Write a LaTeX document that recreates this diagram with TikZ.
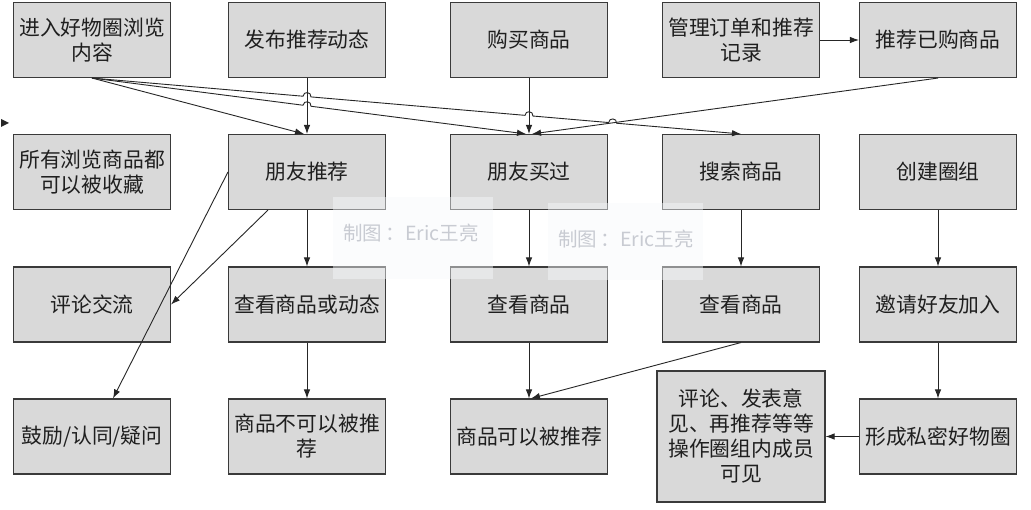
\documentclass[tikz,border=0pt]{standalone}
\usepackage{fontspec}
\newfontfamily\cjk{Noto Sans CJK SC}
\usetikzlibrary{arrows.meta,calc}
\definecolor{boxfill}{HTML}{D9D9D9}
\definecolor{boxline}{HTML}{3A3A3A}
\definecolor{wm}{HTML}{C8CBD2}
\definecolor{wmbg}{HTML}{F7F9FC}
\definecolor{linec}{HTML}{262626}
\begin{document}
\begin{tikzpicture}[x=1pt,y=-1pt,
  box/.style={draw=boxline, line width=1.1pt, fill=boxfill, minimum width=157pt, minimum height=75pt, inner sep=2pt, align=center, font=\cjk\fontsize{20.8}{25}\selectfont, text=black!88},
  arr/.style={draw=linec, line width=0.9pt, -{Latex[length=9pt,width=6.5pt]}},
  hop/.style={bend left=90, looseness=1.7},
  wmtext/.style={text=wm, font=\cjk\fontsize{19.5}{22}\selectfont}]
\useasboundingbox[fill=white] (0,0) rectangle (1031,510);

% row 1
\node[box] (r1a) at (92,40) {进入好物圈浏览\\内容};
\node[box] (r1b) at (307,40) {发布推荐动态};
\node[box] (r1c) at (529,40) {购买商品};
\node[box] (r1d) at (741,40) {管理订单和推荐\\记录};
\node[box] (r1e) at (938,40) {推荐已购商品};
% row 2
\node[box] (r2a) at (92,172) {所有浏览商品都\\可以被收藏};
\node[box] (r2b) at (307,172) {朋友推荐};
\node[box] (r2c) at (529,172) {朋友买过};
\node[box] (r2d) at (741,172) {搜索商品};
\node[box] (r2e) at (938,172) {创建圈组};
% row 3
\node[box] (r3a) at (92,304.5) {评论交流};
\node[box] (r3b) at (307,304.5) {查看商品或动态};
\node[box] (r3c) at (529,304.5) {查看商品};
\node[box] (r3d) at (741,304.5) {查看商品};
\node[box] (r3e) at (938,304.5) {邀请好友加入};
% row 4
\node[box] (r4a) at (92,436.5) {鼓励/认同/疑问};
\node[box] (r4b) at (307,436.5) {商品不可以被推\\荐};
\node[box] (r4c) at (529,436.5) {商品可以被推荐};
\node[box, minimum width=168pt, minimum height=131pt] (r4d) at (741,436.5) {评论、发表意\\见、再推荐等等\\操作圈组内成员\\可见};
\node[box] (r4e) at (938,436.5) {形成私密好物圈};

% watermark overlays
\fill[wmbg, opacity=0.45] (333,197) rectangle (493,279);
\fill[wmbg, opacity=0.45] (548,203) rectangle (703,280);
\node[wmtext] (wm1) at (411,233) {制图\,：Eric王亮};
\node[wmtext] (wm2) at (626,239) {制图\,：Eric王亮};

% stray arrowhead at left
\fill[linec] (1,119) -- (9,123) -- (1,127) -- cycle;

% crossing lines from r1a
\coordinate (tL1) at ($(r2b.north)+(-3,0)$);
\coordinate (tL2) at ($(r2c.north)+(-3,0)$);
\coordinate (tR) at ($(r2c.north)+(3,0)$);
\coordinate (h21) at ($(r1a.south)!0.4954!(tL2)$);
\coordinate (h31) at ($(r1a.south)!0.3313!(r2d.north)$);
\coordinate (h32) at ($(r1a.south)!0.6733!(r2d.north)$);
\coordinate (h33) at ($(r1a.south)!0.8022!(r2d.north)$);

\draw[arr] (r1a.south) -- (tL1);
\draw[arr] (r1a.south) -- ($(h21)!4pt!(r1a.south)$) to[hop] ($(h21)!4pt!(tL2)$) -- (tL2);
\draw[arr] (r1a.south) -- ($(h31)!4pt!(r1a.south)$) to[hop] ($(h31)!4pt!(r2d.north)$)
  -- ($(h32)!4pt!(r1a.south)$) to[hop] ($(h32)!4pt!(r2d.north)$)
  -- ($(h33)!4pt!(r1a.south)$) to[hop] ($(h33)!4pt!(r2d.north)$) -- (r2d.north);
\draw[arr] (r1e.south) -- (tR);

% verticals
\draw[arr] (r1b.south) -- (r2b.north);
\draw[arr] (r1c.south) -- (r2c.north);
\draw[arr] (r1d.east) -- (r1e.west);

\draw[arr] (r2b.west) -- ($(r4a.north)+(21,0)$);
\draw[arr] ($(r2b.south)+(-39,0)$) -- (r3a.east);
\draw[arr] (r2b.south) -- (r3b.north);
\draw[arr] (r3b.south) -- (r4b.north);
\draw[arr] (r2c.south) -- (r3c.north);
\draw[arr] (r3c.south) -- (r4c.north);
\draw[arr] (r2d.south) -- (r3d.north);
\draw[arr] (r3d.south) -- ($(r4c.north)+(2,0)$);
\draw[arr] (r2e.south) -- (r3e.north);
\draw[arr] (r3e.south) -- (r4e.north);
\draw[arr] (r4e.west) -- (r4d.east);
\end{tikzpicture}
\end{document}
